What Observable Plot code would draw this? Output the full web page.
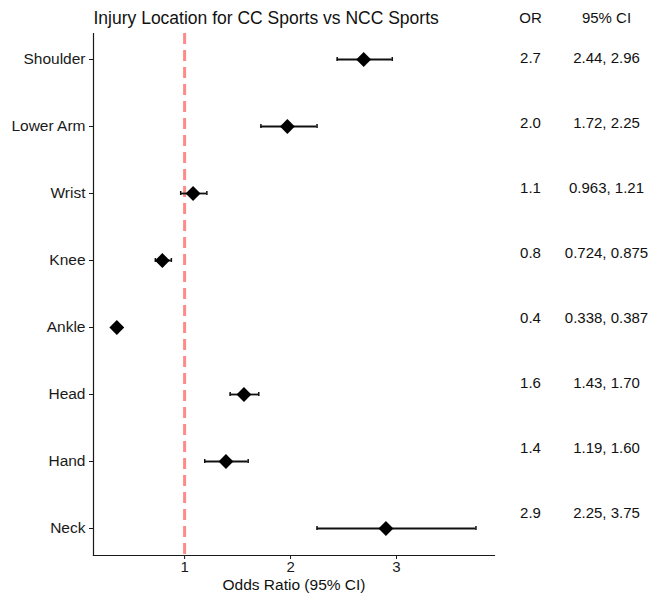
<!DOCTYPE html>
<html>
<head>
<meta charset="utf-8">
<script src="https://cdn.jsdelivr.net/npm/d3@7"></script>
<script src="https://cdn.jsdelivr.net/npm/@observablehq/plot@0.6"></script>
<style>
  html, body { margin: 0; padding: 0; background: #fff; }
  #wrap { position: relative; width: 651px; height: 598px; overflow: hidden; }
  #table { position: absolute; left: 494px; top: 0; }
</style>
</head>
<body>
<div id="wrap"><div id="main"></div><div id="table"></div></div>
<script>
const titleText = "Injury Location for CC Sports vs NCC Sports";
const xLabel = "Odds Ratio (95% CI)";
const locations = ["Shoulder", "Lower Arm", "Wrist", "Knee", "Ankle", "Head", "Hand", "Neck"];
const oddsRatio = [2.69, 1.97, 1.08, 0.79, 0.36, 1.56, 1.39, 2.90];
const ciLower = [2.44, 1.72, 0.963, 0.724, 0.338, 1.43, 1.19, 2.25];
const ciUpper = [2.96, 2.25, 1.21, 0.875, 0.387, 1.70, 1.60, 3.75];
const orLabels = ["2.7", "2.0", "1.1", "0.8", "0.4", "1.6", "1.4", "2.9"];
const ciLabels = ["2.44, 2.96", "1.72, 2.25", "0.963, 1.21", "0.724, 0.875", "0.338, 0.387", "1.43, 1.70", "1.19, 1.60", "2.25, 3.75"];
const tableHeaders = ["OR", "95% CI"];
const xTicks = [1, 2, 3];
const refLine = [1];

const rows = locations.map((loc, i) => ({
  loc, or: oddsRatio[i], lo: ciLower[i], hi: ciUpper[i], orText: orLabels[i], ciText: ciLabels[i]
}));

const font = "'Liberation Sans', Arial, Helvetica, sans-serif";

const main = Plot.plot({
  width: 651,
  height: 598,
  marginLeft: 93,
  marginRight: 157,
  marginTop: 33,
  marginBottom: 43,
  style: { fontFamily: font, fontSize: "15px", color: "#111", background: "white", overflow: "visible" },
  x: { domain: [0.14, 3.925] },
  y: { type: "band", domain: locations, paddingInner: 0.94, paddingOuter: 0.35, align: 0.5 },
  marks: [
    Plot.ruleX(refLine, { x: d => d, stroke: "#ff8a8a", strokeWidth: 3, strokeDasharray: "11,6" }),
    Plot.frame({ anchor: "left", stroke: "#1a1a1a", strokeWidth: 1.2 }),
    Plot.frame({ anchor: "bottom", stroke: "#1a1a1a", strokeWidth: 1.2 }),
    Plot.axisY({ tickSize: 4, tickPadding: 4, fontSize: 15.5, label: null, color: "#1a1a1a" }),
    Plot.axisX({ ticks: xTicks, tickFormat: d3.format("d"), tickSize: 4, tickPadding: 2, fontSize: 15, label: null, color: "#1a1a1a" }),
    Plot.ruleY(rows, { y: "loc", x1: "lo", x2: "hi", stroke: "#111", strokeWidth: 1.8 }),
    Plot.tickX(rows, { x: "lo", y: "loc", stroke: "#111", strokeWidth: 1.5 }),
    Plot.tickX(rows, { x: "hi", y: "loc", stroke: "#111", strokeWidth: 1.5 }),
    Plot.dot(rows, { x: "or", y: "loc", symbol: "diamond2", r: 6.7, fill: "black", stroke: "none" }),
    Plot.text([titleText], { text: d => d, frameAnchor: "top-left", textAnchor: "start", dy: -22, fontSize: 17.5, fill: "#111" }),
    Plot.text([xLabel], { text: d => d, frameAnchor: "bottom", dy: 34, fontSize: 15.5, fill: "#111" })
  ]
});
document.getElementById("main").append(main);

const table = Plot.plot({
  width: 157,
  height: 598,
  marginLeft: 36,
  marginRight: 45,
  marginTop: 55,
  marginBottom: 83,
  style: { fontFamily: font, fontSize: "15px", color: "#111", background: "transparent", overflow: "visible" },
  x: { type: "point", domain: tableHeaders, padding: 0, axis: null },
  y: { type: "point", domain: locations, padding: 0, axis: null },
  marks: [
    Plot.text(tableHeaders, { x: d => d, text: d => d, frameAnchor: "top", dy: -43, fontSize: 15, fill: "#111" }),
    Plot.text(rows, { x: () => "OR", y: "loc", text: "orText", fontSize: 15, fill: "#111" }),
    Plot.text(rows, { x: () => "95% CI", y: "loc", text: "ciText", fontSize: 15, fill: "#111" })
  ]
});
document.getElementById("table").append(table);
</script>
</body>
</html>
